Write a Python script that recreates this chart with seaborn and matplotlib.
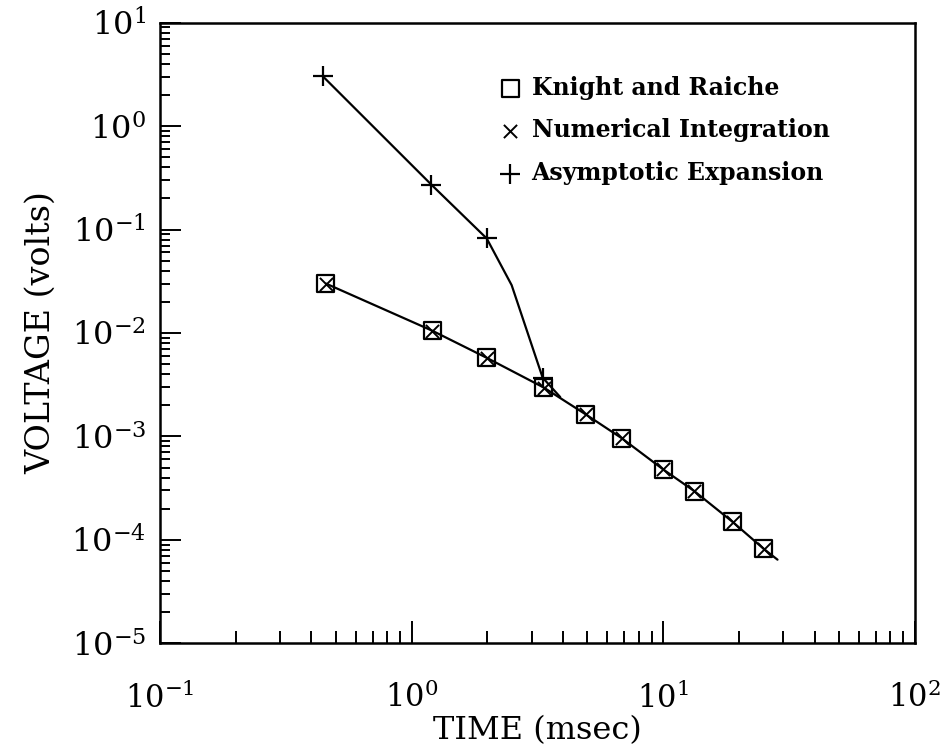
import numpy as np
import pandas as pd
import seaborn as sns
import matplotlib.pyplot as plt

# Knight and Raiche and numerical integration share the same sample times
kr_time = [0.457, 1.21, 1.99, 3.36, 4.93, 6.85, 10.0, 13.3, 18.9, 25.1]
kr_volt = [0.030, 0.0105, 0.00575, 0.00296, 0.00163, 0.00096, 0.00048, 0.000296, 0.000149, 0.0000819]
ni_volt = [0.030, 0.0105, 0.00575, 0.00296, 0.00163, 0.00096, 0.00048, 0.000296, 0.000149, 0.0000819]

# continuous curve drawn through the markers
curve_time = [0.457, 1.21, 1.99, 3.36, 4.93, 6.85, 10.0, 13.3, 18.9, 25.1, 28.5]
curve_volt = [0.030, 0.0105, 0.00575, 0.00296, 0.00163, 0.00096, 0.00048, 0.000296, 0.000149, 0.0000819, 0.0000643]

# asymptotic expansion
asy_time = [0.444, 1.20, 1.99, 3.32]
asy_volt = [3.03, 0.271, 0.082, 0.0037]
asy_curve_time = [0.444, 1.20, 1.99, 2.50, 3.32, 3.9]
asy_curve_volt = [3.03, 0.271, 0.082, 0.029, 0.0037, 0.0024]

x_ticks = [0.1, 1, 10, 100]
y_ticks = [1e-5, 1e-4, 1e-3, 1e-2, 1e-1, 1, 10]


def main():
    sns.set_style('ticks')
    plt.rcParams['font.family'] = ['DejaVu Serif']
    plt.rcParams['mathtext.fontset'] = 'dejavuserif'
    for key in ['text.color', 'axes.labelcolor', 'xtick.color', 'ytick.color']:
        plt.rcParams[key] = 'black'

    fig = plt.figure(figsize=(9.41, 7.55), dpi=100)
    ax = fig.add_axes([0.170, 0.148, 0.802, 0.822])

    curve = pd.DataFrame({'t': curve_time, 'v': curve_volt})
    asy_curve = pd.DataFrame({'t': asy_curve_time, 'v': asy_curve_volt})
    sns.lineplot(x='t', y='v', data=curve, color='black', lw=1.6, sort=False, estimator=None, ax=ax)
    sns.lineplot(x='t', y='v', data=asy_curve, color='black', lw=1.6, sort=False, estimator=None, ax=ax)

    sns.scatterplot(x=kr_time, y=kr_volt, marker='s', s=150, facecolor='none',
                    edgecolor='black', linewidth=1.6, label='Knight and Raiche', ax=ax, zorder=3)
    sns.scatterplot(x=kr_time, y=ni_volt, marker='x', s=90, color='black',
                    linewidth=1.4, label='Numerical Integration', ax=ax, zorder=4)
    sns.scatterplot(x=asy_time, y=asy_volt, marker='+', s=220, color='black',
                    linewidth=1.6, label='Asymptotic Expansion', ax=ax, zorder=4)

    ax.set_xscale('log')
    ax.set_yscale('log')
    ax.set_xticks(x_ticks)
    ax.set_yticks(y_ticks)
    ax.set_xlim(0.1, 100)
    ax.set_ylim(1e-5, 10)

    for side in ['left', 'right', 'top', 'bottom']:
        ax.spines[side].set_linewidth(1.8)
        ax.spines[side].set_color('black')

    ax.tick_params(axis='both', which='both', direction='in', top=False, right=False,
                   color='black', width=1.4)
    ax.tick_params(axis='y', which='major', length=15, pad=10, labelsize=23)
    ax.tick_params(axis='y', which='minor', length=7)
    ax.tick_params(axis='x', which='major', length=16, pad=28, labelsize=22)
    ax.tick_params(axis='x', which='minor', length=9)

    ax.set_xlabel('TIME (msec)', fontsize=23, labelpad=0)
    ax.set_ylabel('VOLTAGE (volts)', fontsize=24, labelpad=10)

    leg = ax.legend(loc='upper left', bbox_to_anchor=(0.422, 0.949), frameon=False,
                    fontsize=17, handletextpad=0.45, labelspacing=0.8, handlelength=0.9)
    for txt in leg.get_texts():
        txt.set_fontweight('bold')

    fig.savefig('out.png', dpi=100)


if __name__ == "__main__":
    main()
